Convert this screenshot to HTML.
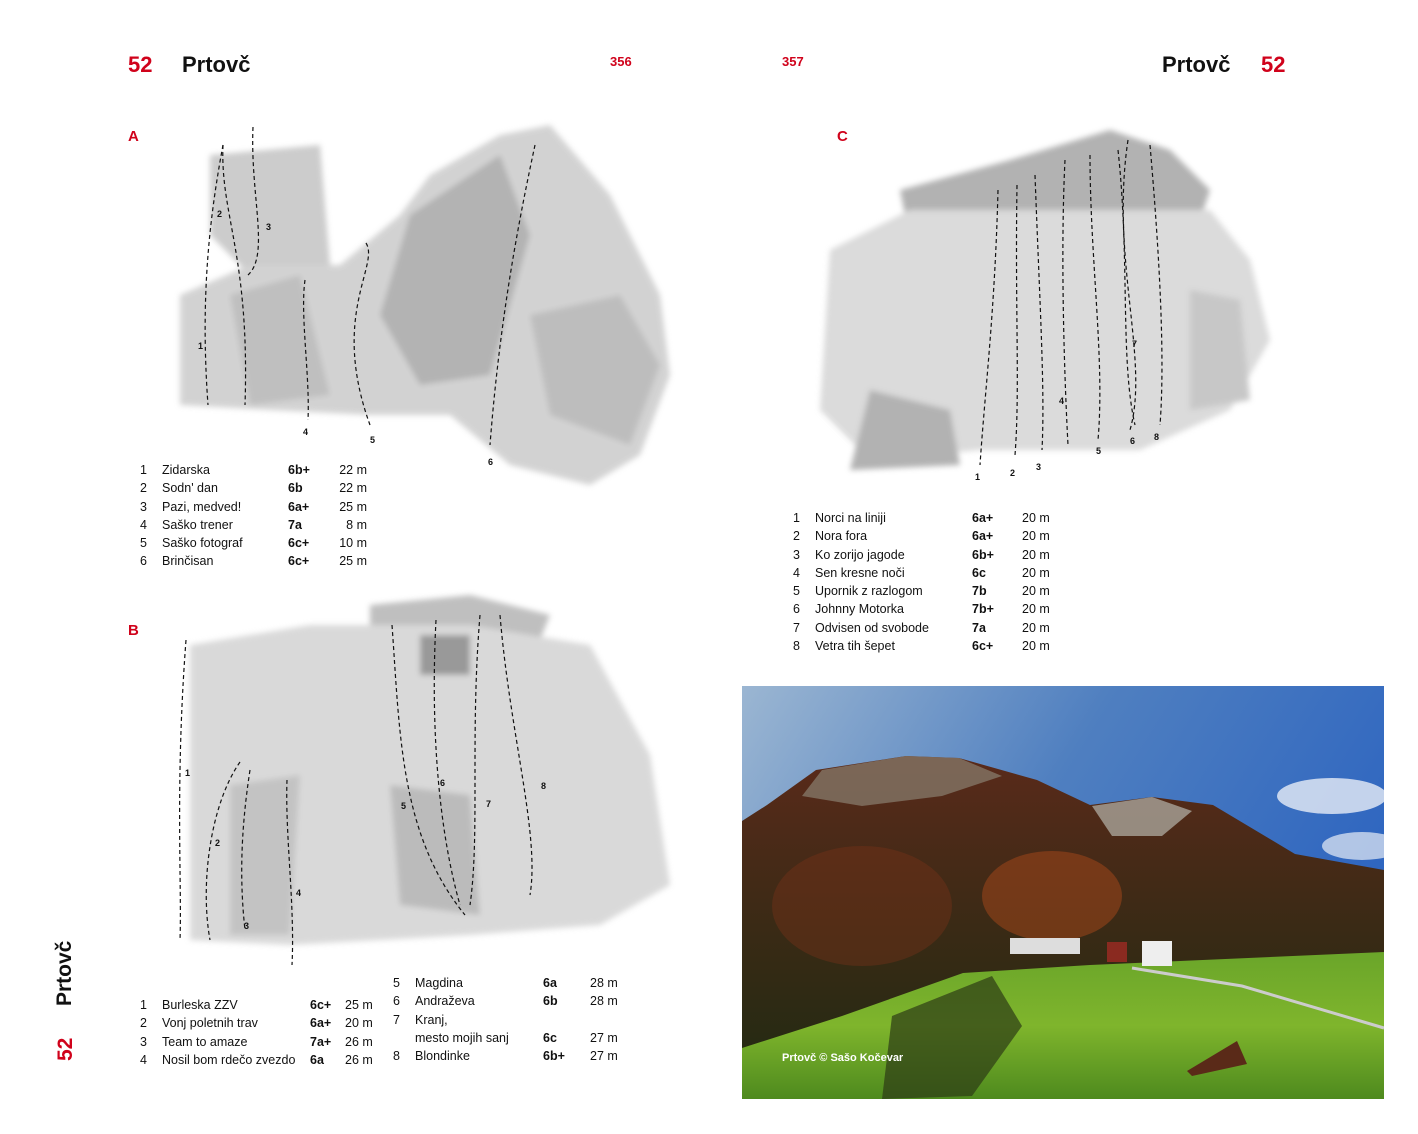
<!DOCTYPE html>
<html><head><meta charset="utf-8">
<style>
*{margin:0;padding:0;box-sizing:border-box}
body{width:1418px;height:1134px;background:#fff;position:relative;overflow:hidden;font-family:"Liberation Sans",sans-serif;color:#111}
.a{position:absolute;white-space:nowrap}
.red{color:#d0021b}
.big{font-size:22px;font-weight:bold}
.pg{font-size:13px;font-weight:bold}
.t{font-size:12.5px;line-height:18.3px}
.b{font-weight:bold}
svg{position:absolute}
</style></head><body>
<div class="a big red" style="left:128px;top:52px">52</div>
<div class="a big" style="left:182px;top:52px">Prtovč</div>
<div class="a pg red" style="left:610px;top:54px">356</div>
<div class="a pg red" style="left:782px;top:54px">357</div>
<div class="a big" style="left:1162px;top:52px">Prtovč</div>
<div class="a big red" style="left:1261px;top:52px">52</div>
<div class="a pg red" style="left:128px;top:128px;font-size:15px">A</div>
<div class="a pg red" style="left:837px;top:128px;font-size:15px">C</div>
<div class="a pg red" style="left:128px;top:622px;font-size:15px">B</div>
<div class="a big" style="left:53px;top:1006px;transform:rotate(-90deg);transform-origin:0 0;font-size:21px">Prtovč</div>
<div class="a big red" style="left:54px;top:1061px;transform:rotate(-90deg);transform-origin:0 0;font-size:21px">52</div>

<!-- Sketch A -->
<svg style="left:170px;top:115px" width="510" height="380" viewBox="0 0 510 380">
<defs><filter id="bl"><feGaussianBlur stdDeviation="3"/></filter></defs>
<g filter="url(#bl)" opacity=".75">
<polygon points="40,40 150,30 160,150 80,160 40,120" fill="#bbb"/>
<polygon points="10,180 80,150 170,150 230,100 260,60 330,20 380,10 440,80 490,180 500,260 470,340 420,370 340,350 280,300 200,300 100,295 10,290" fill="#c4c4c4"/>
<polygon points="240,100 330,40 360,120 320,260 250,270 210,200" fill="#9a9a9a"/>
<polygon points="360,200 450,180 490,250 460,330 380,300" fill="#a8a8a8"/>
<polygon points="60,180 130,160 160,280 80,290" fill="#aaa"/>
</g>
<g fill="none" stroke="#111" stroke-dasharray="4,3" stroke-width="1.2">
<path d="M53,30 C40,100 30,180 38,290"/><path d="M53,30 C50,100 80,140 75,290"/>
<path d="M83,12 C80,80 100,140 78,160"/><path d="M135,165 C130,200 140,260 138,305"/>
<path d="M196,128 C210,150 160,200 200,310"/><path d="M365,30 C350,100 330,200 320,330"/>
</g>
<g font-size="9" font-weight="bold" fill="#111"><text x="47" y="102">2</text><text x="96" y="115">3</text><text x="28" y="234">1</text><text x="133" y="320">4</text><text x="200" y="328">5</text><text x="318" y="350">6</text></g>
</svg>

<!-- Sketch C -->
<svg style="left:810px;top:110px" width="475" height="370" viewBox="0 0 475 370">
<g filter="url(#bl)" opacity=".75">
<polygon points="90,80 200,50 300,20 360,40 400,80 390,110 250,110 100,130" fill="#999"/>
<polygon points="20,140 100,100 250,100 400,100 440,150 460,230 420,300 330,340 170,340 60,350 10,300" fill="#cfcfcf"/>
<polygon points="60,280 140,300 150,355 40,360" fill="#999"/>
<polygon points="380,180 430,190 440,290 380,300" fill="#b5b5b5"/>
</g>
<g fill="none" stroke="#111" stroke-dasharray="4,3" stroke-width="1.2">
<path d="M188,80 C185,200 175,280 170,355"/><path d="M207,75 C205,200 210,280 205,345"/>
<path d="M225,65 C230,200 235,280 232,340"/><path d="M255,50 C250,150 255,280 258,335"/>
<path d="M280,45 C280,150 295,250 288,330"/><path d="M318,30 C300,150 340,250 320,320"/>
<path d="M340,35 C350,150 355,250 350,315"/><path d="M308,40 C320,150 310,250 325,315"/>
</g>
<g font-size="9" font-weight="bold" fill="#111"><text x="165" y="370">1</text><text x="200" y="366">2</text><text x="226" y="360">3</text><text x="249" y="294">4</text><text x="286" y="344">5</text><text x="320" y="334">6</text><text x="344" y="330">8</text><text x="322" y="237">7</text></g>
</svg>

<!-- Sketch B -->
<svg style="left:170px;top:585px" width="510" height="385" viewBox="0 0 510 385">
<g filter="url(#bl)" opacity=".75">
<polygon points="200,20 300,10 380,30 360,80 260,80 200,60" fill="#aaa"/>
<polygon points="20,60 140,40 300,40 420,60 480,170 500,300 430,340 300,350 120,360 20,355" fill="#cdcdcd"/>
<polygon points="250,50 300,50 300,90 250,90" fill="#777"/>
<polygon points="60,200 130,190 120,350 60,350" fill="#b0b0b0"/>
<polygon points="220,200 300,210 310,330 230,320" fill="#a5a5a5"/>
</g>
<g fill="none" stroke="#111" stroke-dasharray="4,3" stroke-width="1.2">
<path d="M16,55 C5,200 12,300 10,355"/><path d="M70,177 C40,220 30,300 40,355"/>
<path d="M80,185 C70,250 70,300 75,345"/><path d="M117,195 C115,250 125,320 122,380"/>
<path d="M222,40 C230,150 230,250 295,330"/><path d="M266,35 C260,150 270,250 290,320"/>
<path d="M310,30 C300,150 310,250 300,320"/><path d="M330,30 C340,150 370,250 360,310"/>
</g>
<g font-size="9" font-weight="bold" fill="#111"><text x="15" y="191">1</text><text x="45" y="261">2</text><text x="74" y="344">3</text><text x="126" y="311">4</text><text x="231" y="224">5</text><text x="270" y="201">6</text><text x="316" y="222">7</text><text x="371" y="204">8</text></g>
</svg>

<!-- Table A -->
<div class="a t" style="left:140px;top:461px">1<br>2<br>3<br>4<br>5<br>6</div>
<div class="a t" style="left:162px;top:461px">Zidarska<br>Sodn' dan<br>Pazi, medved!<br>Saško trener<br>Saško fotograf<br>Brinčisan</div>
<div class="a t b" style="left:288px;top:461px">6b+<br>6b<br>6a+<br>7a<br>6c+<br>6c+</div>
<div class="a t" style="left:337px;top:461px;text-align:right;width:30px">22 m<br>22 m<br>25 m<br>8 m<br>10 m<br>25 m</div>

<!-- Table C -->
<div class="a t" style="left:793px;top:509px">1<br>2<br>3<br>4<br>5<br>6<br>7<br>8</div>
<div class="a t" style="left:815px;top:509px">Norci na liniji<br>Nora fora<br>Ko zorijo jagode<br>Sen kresne noči<br>Upornik z razlogom<br>Johnny Motorka<br>Odvisen od svobode<br>Vetra tih šepet</div>
<div class="a t b" style="left:972px;top:509px">6a+<br>6a+<br>6b+<br>6c<br>7b<br>7b+<br>7a<br>6c+</div>
<div class="a t" style="left:1022px;top:509px">20 m<br>20 m<br>20 m<br>20 m<br>20 m<br>20 m<br>20 m<br>20 m</div>

<!-- Table B -->
<div class="a t" style="left:140px;top:996px">1<br>2<br>3<br>4</div>
<div class="a t" style="left:162px;top:996px">Burleska ZZV<br>Vonj poletnih trav<br>Team to amaze<br>Nosil bom rdečo zvezdo</div>
<div class="a t b" style="left:310px;top:996px">6c+<br>6a+<br>7a+<br>6a</div>
<div class="a t" style="left:345px;top:996px">25 m<br>20 m<br>26 m<br>26 m</div>
<div class="a t" style="left:393px;top:974px">5<br>6<br>7<br><br>8</div>
<div class="a t" style="left:415px;top:974px">Magdina<br>Andraževa<br>Kranj,<br>mesto mojih sanj<br>Blondinke</div>
<div class="a t b" style="left:543px;top:974px">6a<br>6b<br><br>6c<br>6b+</div>
<div class="a t" style="left:590px;top:974px">28 m<br>28 m<br><br>27 m<br>27 m</div>

<!-- Photo -->
<svg style="left:742px;top:686px" width="642" height="413" viewBox="0 0 642 413">
<defs>
<linearGradient id="sky" x1="0" y1="0" x2="1" y2="0.4"><stop offset="0" stop-color="#9bb6d2"/><stop offset=".5" stop-color="#4f7fc0"/><stop offset="1" stop-color="#2f66c0"/></linearGradient>
<linearGradient id="fo" x1="0" y1="0" x2="0" y2="1"><stop offset="0" stop-color="#5a2a1a"/><stop offset=".5" stop-color="#3a2a15"/><stop offset="1" stop-color="#1f2a12"/></linearGradient>
<linearGradient id="gr" x1="0" y1="0" x2="0" y2="1"><stop offset="0" stop-color="#6aa52a"/><stop offset=".5" stop-color="#7fb52c"/><stop offset="1" stop-color="#4e8a1e"/></linearGradient>
</defs>
<rect width="642" height="413" fill="url(#sky)"/>
<ellipse cx="590" cy="110" rx="55" ry="18" fill="#e8eef6" opacity=".8"/>
<ellipse cx="620" cy="160" rx="40" ry="14" fill="#e8eef6" opacity=".7"/>
<polygon points="0,135 25,119 74,84 164,70 217,72 295,94 348,119 410,111 471,119 553,168 642,184 642,413 0,413" fill="url(#fo)"/>
<polygon points="60,110 80,84 164,70 217,72 260,90 200,110 120,120" fill="#8a8070" opacity=".7"/>
<polygon points="350,120 410,111 450,125 420,150 370,150" fill="#a9a49a" opacity=".8"/>
<ellipse cx="310" cy="210" rx="70" ry="45" fill="#a8481a" opacity=".5"/>
<ellipse cx="120" cy="220" rx="90" ry="60" fill="#7a3218" opacity=".4"/>
<polygon points="0,362 100,330 221,287 348,279 642,266 642,413 0,413" fill="url(#gr)"/>
<polygon points="150,330 250,290 280,340 230,410 140,413" fill="#2c3a15" opacity=".7"/>
<path d="M390,282 L500,300 L642,342" stroke="#ccc" stroke-width="3" fill="none"/>
<polygon points="445,385 495,355 505,378 450,390" fill="#5a2a18"/>
<rect x="268" y="252" width="70" height="16" fill="#ddd"/><rect x="400" y="255" width="30" height="25" fill="#eee"/><rect x="365" y="256" width="20" height="20" fill="#8a2a20"/>
<text x="40" y="375" font-family="Liberation Sans,sans-serif" font-size="11" font-weight="bold" fill="#fff">Prtovč © Sašo Kočevar</text>
</svg>
</body></html>
